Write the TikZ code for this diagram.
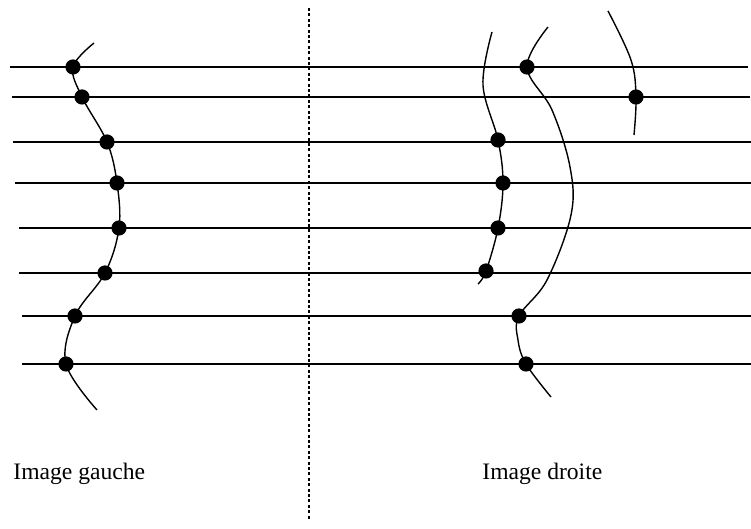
\documentclass[tikz,border=0pt]{standalone}
\usepackage{fontspec}
\setmainfont{Liberation Serif}
\usetikzlibrary{positioning}

\begin{document}
\begin{tikzpicture}[
  x=0.5pt, y=-0.5pt,
  dot/.style={circle, fill=black, inner sep=0pt, minimum size=7.6pt},
  rule/.style={line width=0.75pt},
  curve/.style={line width=0.7pt, smooth, tension=0.6},
  label/.style={anchor=base west, inner sep=0pt, font=\fontsize{11.8}{14}\selectfont},
]
  \useasboundingbox (0,0) rectangle (751,529);

  % horizontal lines
  \draw[rule] (10,67) -- (748,67);
  \draw[rule] (12,97) -- (750,97);
  \draw[rule] (13,142) -- (751,142);
  \draw[rule] (15,183) -- (751,183);
  \draw[rule] (19,228) -- (751,228);
  \draw[rule] (19,273) -- (751,273);
  \draw[rule] (22,316) -- (751,316);
  \draw[rule] (22,364) -- (751,364);

  % separation
  \draw[line width=1pt, dash pattern=on 1.5pt off 1.2pt] (308.7,8) -- (308.7,520);

  % left image
  \coordinate (ltop) at (94,43);
  \coordinate (lbot) at (97,410);
  \node[dot] (l1) at (73,67) {};
  \node[dot] (l2) at (82,97) {};
  \node[dot] (l3) at (107,142) {};
  \node[dot] (l4) at (117,183) {};
  \node[dot] (l5) at (119,228) {};
  \node[dot] (l6) at (105,273) {};
  \node[dot] (l7) at (75,316) {};
  \node[dot] (l8) at (66,364) {};
  \draw[curve] plot coordinates {(ltop) (l1) (l2) (l3) (l4) (l5) (l6) (l7) (l8) (lbot)};

  % right image, first curve
  \coordinate (atop) at (492,32);
  \coordinate (amid) at (483,85);
  \coordinate (abot) at (478,284);
  \node[dot] (a1) at (498,140) {};
  \node[dot] (a2) at (503,183) {};
  \node[dot] (a3) at (498,228) {};
  \node[dot] (a4) at (486,271) {};
  \draw[curve] plot coordinates {(atop) (amid) (a1) (a2) (a3) (a4) (abot)};

  % right image, second curve
  \coordinate (btop) at (548,27);
  \coordinate (bm1) at (552,110);
  \coordinate (bm2) at (570,167);
  \coordinate (bm3) at (571,215);
  \coordinate (bm4) at (547,280);
  \coordinate (bm5) at (518,340);
  \coordinate (bbot) at (551,397);
  \node[dot] (b1) at (527,67) {};
  \node[dot] (b2) at (519,316) {};
  \node[dot] (b3) at (526,364) {};
  \draw[curve] plot coordinates {(btop) (b1) (bm1) (bm2) (bm3) (bm4) (b2) (bm5) (b3) (bbot)};

  % right image, third curve
  \coordinate (ctop) at (608,11);
  \coordinate (cmid) at (631,60);
  \coordinate (cbot) at (634,135);
  \node[dot] (c1) at (636,97) {};
  \draw[curve] plot coordinates {(ctop) (cmid) (c1) (cbot)};

  \node[label] (gauche) at (13,480) {Image gauche};
  \node[label] (droite) at (482,480) {Image droite};
\end{tikzpicture}
\end{document}
